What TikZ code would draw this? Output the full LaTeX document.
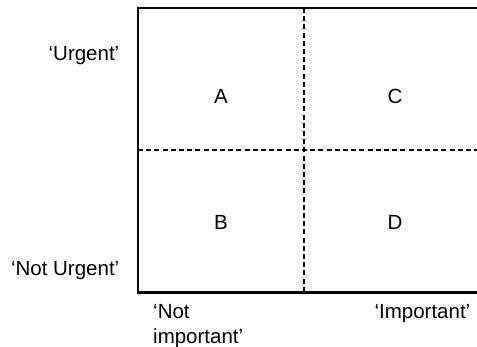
\documentclass[tikz,border=0pt]{standalone}
\usepackage{fontspec}
\setmainfont{Liberation Sans}
\begin{document}
\begin{tikzpicture}[x=1pt,y=-1pt,
    frame/.style={line width=2.3pt},
    divider/.style={line width=1.8pt,dash pattern=on 5pt off 3.2pt},
    lbl/.style={inner sep=0pt,font=\fontsize{20.5}{25}\selectfont},
    cell/.style={lbl,anchor=base}]
  \useasboundingbox (0,0) rectangle (477,347);
  % corners of the grid
  \coordinate (tl) at (138,8);
  \coordinate (tr) at (478,8);
  \coordinate (bl) at (138,292.5);
  \coordinate (br) at (478,292.5);
  \coordinate (vt) at (304,8);
  \coordinate (vb) at (304,292.5);
  \coordinate (hl) at (138,150);
  \coordinate (hr) at (478,150);
  % dividing lines
  \draw[divider] (vt) -- (vb);
  \draw[divider] (hl) -- (hr);
  % open frame
  \draw[frame] (tr) -- (tl) -- (bl) -- (br);
  % quadrant letters
  \node[cell] (A) at (221,103.3) {A};
  \node[cell] (C) at (395,103.3) {C};
  \node[cell] (B) at (221,229.3) {B};
  \node[cell] (D) at (395,229.3) {D};
  % axis labels
  \node[lbl,anchor=base east] (urg) at (119.5,60.5) {‘Urgent’};
  \node[lbl,anchor=base east] (nurg) at (119.5,276) {‘Not Urgent’};
  \node[lbl,anchor=base west,align=left] (nimp) at (153,343.3) {‘Not\\important’};
  \node[lbl,anchor=base east] (imp) at (470.5,318.3) {‘Important’};
\end{tikzpicture}
\end{document}
